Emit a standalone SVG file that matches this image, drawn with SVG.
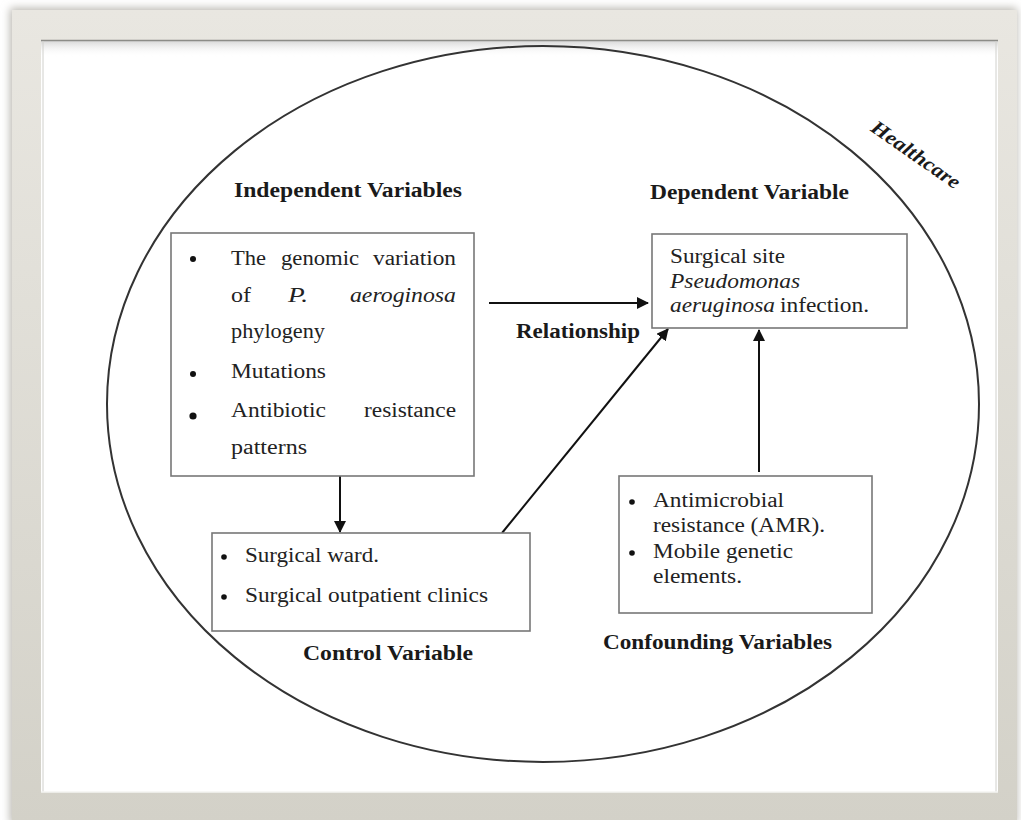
<svg xmlns="http://www.w3.org/2000/svg" width="1021" height="820" viewBox="0 0 1021 820">
<style>
.title{font-family:"Liberation Serif","Times New Roman",serif;font-weight:bold;font-size:20px;fill:#1a1a1a}
.body{font-family:"Liberation Serif","Times New Roman",serif;font-size:20px;fill:#222}
.it{font-style:italic}
.box{fill:#fff;stroke:#777;stroke-width:1.6}
.conn{stroke:#111;stroke-width:2;fill:none}
</style>
<defs>
<linearGradient id="frameGrad" x1="0" y1="0" x2="0" y2="1">
<stop offset="0" stop-color="#e9e7e1"/>
<stop offset="1" stop-color="#d3d1c8"/>
</linearGradient>
<linearGradient id="topShade" x1="0" y1="0" x2="0" y2="1">
<stop offset="0" stop-color="#c8c8c8" stop-opacity="0.7"/>
<stop offset="1" stop-color="#ffffff" stop-opacity="0"/>
</linearGradient>
<filter id="shadow" x="-5%" y="-5%" width="110%" height="110%">
<feGaussianBlur stdDeviation="4"/>
</filter>
<marker id="arrow" viewBox="0 0 12 12" refX="11" refY="6" markerWidth="12" markerHeight="12" markerUnits="userSpaceOnUse" orient="auto">
<path d="M0,0 L12,6 L0,12 z" fill="#111"/>
</marker>
</defs>
<rect width="1021" height="820" fill="#ffffff"/>
<g id="frame">
<rect x="10" y="8" width="1007" height="816" fill="#b9b7b0" filter="url(#shadow)"/>
<rect x="12" y="10" width="1005" height="812" fill="url(#frameGrad)"/>
<rect x="41" y="40" width="957" height="752" fill="#ffffff"/>
<rect x="41" y="41" width="957" height="16" fill="url(#topShade)"/>
<line x1="41" y1="40.5" x2="998" y2="40.5" stroke="#8c8c88" stroke-width="1.5"/>
<line x1="43" y1="41" x2="43" y2="792" stroke="#d0d0cc" stroke-width="1"/>
<line x1="996" y1="41" x2="996" y2="792" stroke="#d0d0cc" stroke-width="1"/>
<line x1="41" y1="792" x2="998" y2="792" stroke="#f4f4f2" stroke-width="1.5"/>
</g>
<g id="healthcare">
<ellipse cx="543" cy="404" rx="436" ry="358" fill="none" stroke="#333" stroke-width="2"/>
<text class="title it" font-size="17" text-anchor="middle" transform="translate(912,160) rotate(35)" textLength="104" lengthAdjust="spacingAndGlyphs">Healthcare</text>
</g>
<g id="connectors">
<line class="conn" x1="489" y1="303" x2="648" y2="303" marker-end="url(#arrow)"/>
<line class="conn" x1="340" y1="476" x2="340" y2="532" marker-end="url(#arrow)"/>
<line class="conn" x1="502" y1="533" x2="668" y2="329" marker-end="url(#arrow)"/>
<line class="conn" x1="759" y1="472" x2="759" y2="330" marker-end="url(#arrow)"/>
<text class="title" x="516" y="338" textLength="124" lengthAdjust="spacingAndGlyphs">Relationship</text>
</g>
<g id="independent">
<text class="title" x="234" y="197" textLength="228" lengthAdjust="spacingAndGlyphs">Independent Variables</text>
<rect class="box" x="171" y="233" width="303" height="243"/>
<circle cx="193" cy="259" r="3" fill="#111"/>
<text class="body" x="231" y="265" textLength="35" lengthAdjust="spacingAndGlyphs">The</text>
<text class="body" x="281" y="265" textLength="78" lengthAdjust="spacingAndGlyphs">genomic</text>
<text class="body" x="373" y="265" textLength="83" lengthAdjust="spacingAndGlyphs">variation</text>
<text class="body" x="231" y="302" textLength="20" lengthAdjust="spacingAndGlyphs">of</text>
<text class="body it" x="288" y="302" textLength="20" lengthAdjust="spacingAndGlyphs">P.</text>
<text class="body it" x="350" y="302" textLength="106" lengthAdjust="spacingAndGlyphs">aeroginosa</text>
<text class="body" x="231" y="338" textLength="94" lengthAdjust="spacingAndGlyphs">phylogeny</text>
<circle cx="193" cy="374" r="3" fill="#111"/>
<text class="body" x="231" y="378" textLength="95" lengthAdjust="spacingAndGlyphs">Mutations</text>
<circle cx="193" cy="416" r="3.6" fill="#111"/>
<text class="body" x="231" y="417" textLength="95" lengthAdjust="spacingAndGlyphs">Antibiotic</text>
<text class="body" x="364" y="417" textLength="92" lengthAdjust="spacingAndGlyphs">resistance</text>
<text class="body" x="231" y="454" textLength="76" lengthAdjust="spacingAndGlyphs">patterns</text>
</g>
<g id="dependent">
<text class="title" x="650" y="199" textLength="199" lengthAdjust="spacingAndGlyphs">Dependent Variable</text>
<rect class="box" x="652" y="234" width="255" height="94"/>
<text class="body" x="670" y="263" textLength="115" lengthAdjust="spacingAndGlyphs">Surgical site</text>
<text class="body it" x="670" y="288" textLength="130" lengthAdjust="spacingAndGlyphs">Pseudomonas</text>
<text class="body it" x="670" y="312" textLength="105" lengthAdjust="spacingAndGlyphs">aeruginosa</text>
<text class="body" x="780" y="312" textLength="89" lengthAdjust="spacingAndGlyphs">infection.</text>
</g>
<g id="control">
<rect class="box" x="212" y="533" width="318" height="98"/>
<circle cx="224" cy="557" r="2.8" fill="#111"/>
<text class="body" x="245" y="562" textLength="134" lengthAdjust="spacingAndGlyphs">Surgical ward.</text>
<circle cx="224" cy="597" r="2.8" fill="#111"/>
<text class="body" x="245" y="602" textLength="243" lengthAdjust="spacingAndGlyphs">Surgical outpatient clinics</text>
<text class="title" x="303" y="660" textLength="170" lengthAdjust="spacingAndGlyphs">Control Variable</text>
</g>
<g id="confounding">
<rect class="box" x="619" y="476" width="253" height="137"/>
<circle cx="632" cy="502" r="2.8" fill="#111"/>
<text class="body" x="653" y="507" textLength="131" lengthAdjust="spacingAndGlyphs">Antimicrobial</text>
<text class="body" x="653" y="532" textLength="172" lengthAdjust="spacingAndGlyphs">resistance (AMR).</text>
<circle cx="632" cy="553" r="2.8" fill="#111"/>
<text class="body" x="653" y="558" textLength="140" lengthAdjust="spacingAndGlyphs">Mobile genetic</text>
<text class="body" x="653" y="583" textLength="89" lengthAdjust="spacingAndGlyphs">elements.</text>
<text class="title" x="603" y="649" textLength="229" lengthAdjust="spacingAndGlyphs">Confounding Variables</text>
</g>
</svg>
